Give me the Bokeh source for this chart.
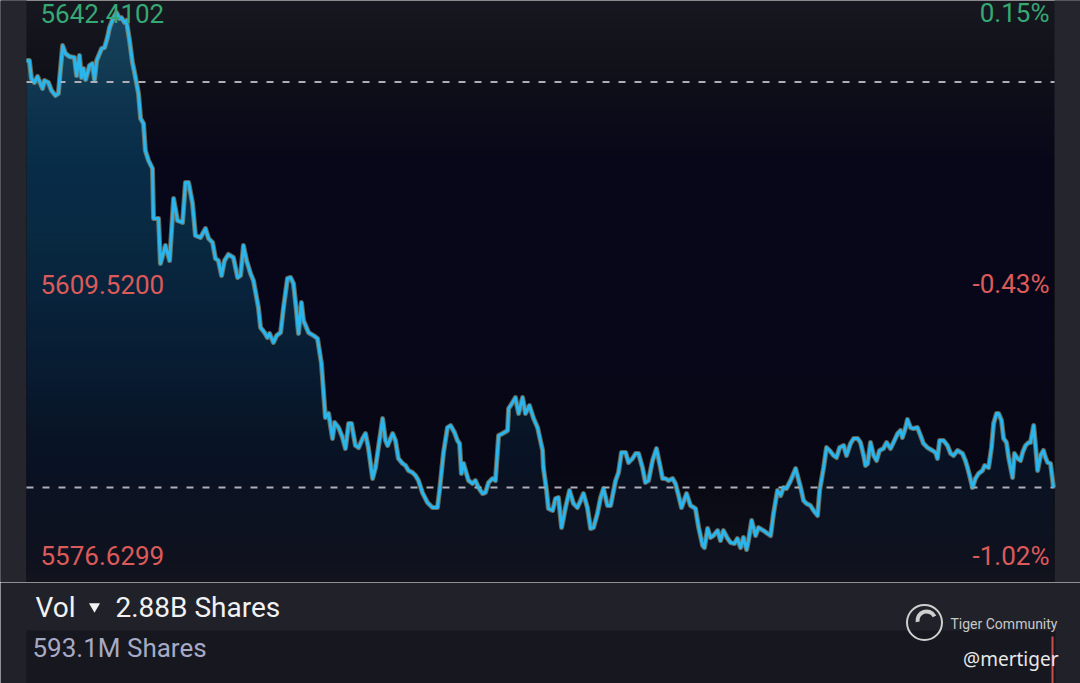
import numpy as np
from bokeh.plotting import figure
from bokeh.layouts import column
from bokeh.models import Range1d
from bokeh.core.properties import value
from bokeh.embed import file_html
from bokeh.resources import INLINE

# ---------------- data (minutes after the open, index level) ----------------
minutes = [0.0, 1.1, 1.9, 3.0, 4.2, 5.3, 6.1, 6.8, 8.3, 9.5, 11.0, 12.1, 12.5, 13.7, 14.8, 16.3, 18.2, 19.0, 20.1, 20.9,
           21.6, 22.4, 23.9, 25.0, 25.8, 26.6, 27.7, 28.5, 29.6, 30.7, 31.5, 33.0, 34.1, 35.3, 36.0, 37.2, 37.9, 39.1, 40.2, 41.0,
           42.5, 43.3, 44.4, 45.1, 46.3, 47.8, 48.2, 50.1, 50.8, 52.7, 54.3, 55.8, 57.3, 59.2, 60.3, 61.5, 63.0, 64.1, 66.0, 67.9,
           69.1, 70.6, 71.7, 72.8, 74.0, 75.1, 76.6, 78.5, 80.1, 81.2, 82.3, 83.5, 85.0, 86.1, 88.0, 88.8, 90.3, 91.4, 92.2, 93.7,
           94.9, 96.4, 97.5, 99.0, 100.2, 101.3, 102.4, 103.2, 104.3, 105.1, 107.0, 108.9, 110.4, 111.9, 113.4, 114.6, 116.1, 116.9, 118.4, 119.9,
           121.0, 122.2, 123.3, 124.8, 126.0, 127.5, 128.6, 129.7, 131.3, 132.4, 133.5, 135.1, 136.2, 137.0, 138.9, 140.0, 141.1, 142.7, 143.8, 144.9,
           146.4, 147.6, 148.7, 150.2, 152.1, 154.0, 155.9, 156.7, 158.2, 159.7, 160.9, 162.4, 163.5, 164.3, 165.0, 165.8, 166.9, 167.7, 169.2, 170.3,
           171.5, 173.0, 174.1, 175.3, 176.8, 177.9, 179.1, 180.6, 182.5, 182.9, 184.4, 185.5, 186.7, 188.2, 189.3, 190.8, 192.4, 193.9, 195.8, 196.1,
           197.3, 198.0, 199.6, 200.7, 201.8, 203.0, 204.5, 206.0, 207.5, 209.0, 210.2, 211.3, 212.8, 214.0, 215.1, 216.6, 217.8, 218.9, 220.4, 221.6,
           223.5, 224.6, 225.7, 227.3, 228.4, 229.9, 231.1, 232.2, 233.7, 234.8, 236.0, 237.5, 239.0, 240.5, 241.3, 242.4, 243.6, 245.1, 246.2, 247.4,
           248.5, 250.4, 251.9, 253.8, 255.0, 256.5, 257.2, 258.4, 259.5, 260.6, 262.2, 263.3, 264.4, 266.0, 267.1, 268.6, 269.7, 270.9, 272.0, 273.2,
           273.9, 275.1, 276.6, 277.7, 279.6, 281.1, 282.3, 283.4, 284.9, 286.1, 287.2, 288.3, 289.9, 291.8, 292.5, 293.7, 294.8, 295.9, 297.4, 298.6,
           300.1, 300.9, 302.4, 303.5, 304.7, 306.2, 307.3, 308.5, 310.0, 311.1, 312.6, 313.8, 315.3, 316.4, 317.6, 318.3, 319.1, 320.2, 321.4, 322.5,
           323.6, 325.1, 326.3, 327.8, 328.9, 330.5, 331.6, 332.3, 333.5, 334.2, 335.4, 336.5, 338.0, 339.2, 340.3, 341.8, 343.7, 344.9, 345.6, 346.4,
           347.9, 349.4, 350.6, 351.7, 353.2, 355.1, 356.2, 357.0, 357.8, 358.9, 360.0, 361.2, 362.7, 363.5, 365.0, 366.1, 366.9, 368.0, 368.8, 369.9,
           370.7, 371.8, 372.6, 374.1, 374.8, 376.0, 377.1, 377.9, 379.0, 380.2, 380.9, 382.1, 382.8, 383.6, 384.7, 385.8, 386.6, 387.4, 388.5, 389.6]

prices = [5636.53, 5636.53, 5634.33, 5633.84, 5634.57, 5633.71, 5633.10, 5634.08, 5633.84, 5632.86, 5632.24, 5632.49, 5634.08, 5638.37, 5637.39, 5637.02, 5636.90, 5634.69, 5637.14, 5634.45,
          5635.55, 5634.20, 5635.92, 5636.16, 5634.20, 5636.53, 5637.39, 5638.00, 5638.12, 5639.35, 5640.57, 5641.80, 5642.41, 5641.68, 5641.80, 5641.19, 5641.43, 5638.98, 5636.29, 5635.06,
          5632.49, 5629.43, 5628.81, 5625.51, 5624.28, 5623.30, 5617.17, 5617.17, 5611.66, 5613.87, 5612.03, 5619.62, 5616.93, 5616.69, 5621.59, 5621.59, 5619.01, 5615.09, 5614.85, 5615.95,
          5614.72, 5614.24, 5612.28, 5612.03, 5610.19, 5612.03, 5612.77, 5612.40, 5609.95, 5610.19, 5613.87, 5612.03, 5610.44, 5609.58, 5606.27, 5603.82, 5603.21, 5602.60, 5603.09, 5601.99,
          5602.84, 5603.21, 5606.27, 5609.83, 5609.95, 5609.21, 5605.91, 5603.09, 5606.89, 5604.68, 5603.21, 5602.84, 5602.48, 5599.41, 5592.80, 5593.29, 5590.23, 5592.19, 5591.57, 5590.35,
          5589.00, 5592.06, 5592.06, 5589.37, 5589.12, 5590.23, 5590.84, 5589.12, 5585.33, 5586.67, 5589.12, 5592.68, 5589.98, 5589.37, 5590.84, 5589.98, 5587.78, 5587.16, 5586.92, 5586.31,
          5586.06, 5585.69, 5585.08, 5583.61, 5582.39, 5581.77, 5581.77, 5583.86, 5588.51, 5591.57, 5591.82, 5590.96, 5589.98, 5589.61, 5585.94, 5587.16, 5585.94, 5585.08, 5584.71, 5585.08,
          5584.22, 5583.49, 5583.61, 5584.84, 5585.33, 5585.08, 5590.59, 5590.84, 5591.21, 5593.90, 5594.64, 5595.25, 5593.29, 5595.25, 5593.29, 5594.27, 5592.68, 5591.57, 5588.76, 5586.67,
          5583.86, 5581.65, 5581.41, 5582.88, 5583.00, 5579.32, 5581.77, 5583.86, 5582.26, 5581.77, 5582.63, 5583.49, 5581.77, 5579.20, 5579.32, 5581.04, 5583.00, 5584.10, 5582.02, 5582.02,
          5585.08, 5586.06, 5588.51, 5588.51, 5587.29, 5587.78, 5588.39, 5588.39, 5586.67, 5584.84, 5585.08, 5587.53, 5589.00, 5586.67, 5585.33, 5585.33, 5585.08, 5585.33, 5584.71, 5583.24,
          5581.77, 5583.49, 5582.02, 5581.65, 5579.32, 5577.12, 5576.87, 5579.20, 5578.10, 5578.34, 5578.95, 5577.73, 5578.95, 5577.97, 5577.48, 5577.36, 5577.97, 5576.87, 5578.10, 5576.63,
          5577.73, 5580.18, 5578.34, 5579.32, 5578.95, 5578.59, 5578.34, 5581.04, 5583.86, 5583.24, 5584.22, 5584.10, 5585.08, 5586.55, 5585.69, 5584.22, 5582.63, 5582.26, 5582.02, 5581.41,
          5580.79, 5583.86, 5586.67, 5589.12, 5588.76, 5588.14, 5587.90, 5589.12, 5589.37, 5588.14, 5589.61, 5590.23, 5590.23, 5589.74, 5588.14, 5586.92, 5587.16, 5589.74, 5588.14, 5587.53,
          5588.76, 5589.00, 5589.74, 5589.00, 5589.74, 5590.84, 5591.21, 5590.35, 5591.57, 5592.55, 5591.57, 5591.45, 5591.57, 5590.59, 5589.61, 5589.12, 5588.76, 5588.51, 5587.78, 5589.98,
          5589.98, 5589.37, 5588.39, 5588.14, 5588.76, 5588.39, 5587.53, 5586.67, 5585.69, 5584.22, 5585.33, 5585.94, 5586.31, 5586.92, 5586.67, 5589.12, 5592.06, 5593.29, 5593.29, 5592.43,
          5590.23, 5589.74, 5587.90, 5585.45, 5588.39, 5587.78, 5587.53, 5588.51, 5589.37, 5589.74, 5589.74, 5591.82, 5589.37, 5586.31, 5588.14, 5588.76, 5587.90, 5587.29, 5587.16, 5584.22]

prev_close = 5633.91
scale_values = [5642.41, 5609.52, 5576.63]
scale_labels = ["5642.4102", "5609.5200", "5576.6299"]
pct_labels = ["0.15%", "-0.43%", "-1.02%"]
vol_name = "Vol"
vol_total = "2.88B Shares"
vol_last = "593.1M Shares"
brand = "Tiger Community"
handle = "@mertiger"

# ---------------- styles ----------------
BG = "#17171f"
STRIP = "#24252d"
BAND = "#212229"
GREEN = "#36a873"
RED = "#dc5a5a"
FONT = value("Roboto")

W = 1080
X_LO, X_HI = 0, 390                      # session minutes
PAD = 26 * (X_HI - X_LO) / 1028          # side strips, 26 px each, in minute units
Y_LO, Y_HI = 5572.59, 5643.88

p = figure(width=W, height=582, x_range=Range1d(X_LO - PAD, X_HI + PAD), y_range=Range1d(Y_LO, Y_HI),
           output_backend="svg", toolbar_location=None, x_axis_location=None, y_axis_location=None,
           min_border_left=0, min_border_right=0, min_border_top=0, min_border_bottom=0,
           background_fill_color=BG, border_fill_color=BG, outline_line_color=None)
p.grid.visible = False

# area under the price line, then vertical fade towards the background
p.varea(x=minutes, y1=Y_LO - 5, y2=prices, fill_color="#18445f")
N = 60
cmax = 0.97
prev = 1.0
for n in range(1, N + 1):
    target = 1 - cmax * n / N
    a = 1 - target / prev
    prev = target
    level = Y_HI - (Y_HI - Y_LO) * n / N
    p.quad(left=X_LO, right=X_HI, bottom=Y_LO - 5, top=level, fill_color=BG, fill_alpha=a, line_color=None)

# side strips
p.quad(left=[X_LO - 2 * PAD, X_HI], right=[X_LO, X_HI + 2 * PAD], bottom=Y_LO - 10, top=Y_HI + 10,
       fill_color=STRIP, line_color=None)

# reference dashed lines: previous close and last price
for lvl in [prev_close, prices[-1]]:
    p.segment(x0=[X_LO], y0=[lvl], x1=[X_HI], y1=[lvl], line_color="#aeaeba", line_width=2, line_dash="7 9")

p.line(minutes, prices, line_color="#c2bb8e", line_width=5, line_alpha=0.5, line_join="round")
p.line(minutes, prices, line_color="#2ab5ec", line_width=3, line_join="round")

p.text(x=[5.3] * 3, y=scale_values, text=scale_labels, text_color=[GREEN, RED, RED],
       text_font=FONT, text_font_size="26px", text_align="left", text_baseline="middle",
       y_offset=[0.5, 3, 6])
p.text(x=[388.1] * 3, y=scale_values, text=pct_labels, text_color=[GREEN, RED, RED],
       text_font=FONT, text_font_size="26px", text_align="right", text_baseline="middle",
       y_offset=[0.5, 3, 6])

# ---------------- volume header / footer ----------------
q = figure(width=W, height=101, x_range=Range1d(0, W), y_range=Range1d(0, 101),
           output_backend="svg", toolbar_location=None, x_axis_location=None, y_axis_location=None,
           min_border_left=0, min_border_right=0, min_border_top=0, min_border_bottom=0,
           background_fill_color=BAND, border_fill_color=BAND, outline_line_color=None)
q.grid.visible = False
q.quad(left=26, right=1055, bottom=-2, top=53, fill_color=BG, line_color=None)

q.text(x=[35], y=[76], text=[vol_name], text_color="#f2f2f2", text_font=FONT, text_font_size="28px",
       text_align="left", text_baseline="middle")
q.scatter(x=[94], y=[77], marker="inverted_triangle", size=11, fill_color="#f2f2f2", line_color=None)
q.text(x=[115], y=[76], text=[vol_total], text_color="#f2f2f2", text_font=FONT, text_font_size="28px",
       text_align="left", text_baseline="middle")
q.text(x=[32], y=[36], text=[vol_last], text_color="#a7aac4", text_font=FONT, text_font_size="26px",
       text_align="left", text_baseline="middle")

# watermark
q.scatter(x=[924], y=[61], marker="circle", size=35, fill_color=None, line_color="#cfcfcf", line_width=2)
q.arc(x=[926], y=[63], radius=9, start_angle=np.pi * 1.05, end_angle=np.pi * 0.15, direction="clock",
      line_color="#cfcfcf", line_width=4)
q.text(x=[950], y=[60], text=[brand], text_color="#c8c8c8", text_font=FONT, text_font_size="14px",
       text_align="left", text_baseline="middle")
q.segment(x0=[1052], y0=[47], x1=[1052], y1=[-5], line_color="#c84e4e", line_width=2)
q.text(x=[1058], y=[25], text=[handle], text_color="#e8e8e8", text_font=value("Noto Sans"),
       text_font_size="19px", text_align="right", text_baseline="middle")

layout = column(p, q, spacing=0)
html = file_html(layout, INLINE)
html = html.replace("<body>", '<body style="margin:0; background:#17171f;">', 1)
open("out.html", "w").write(html)
